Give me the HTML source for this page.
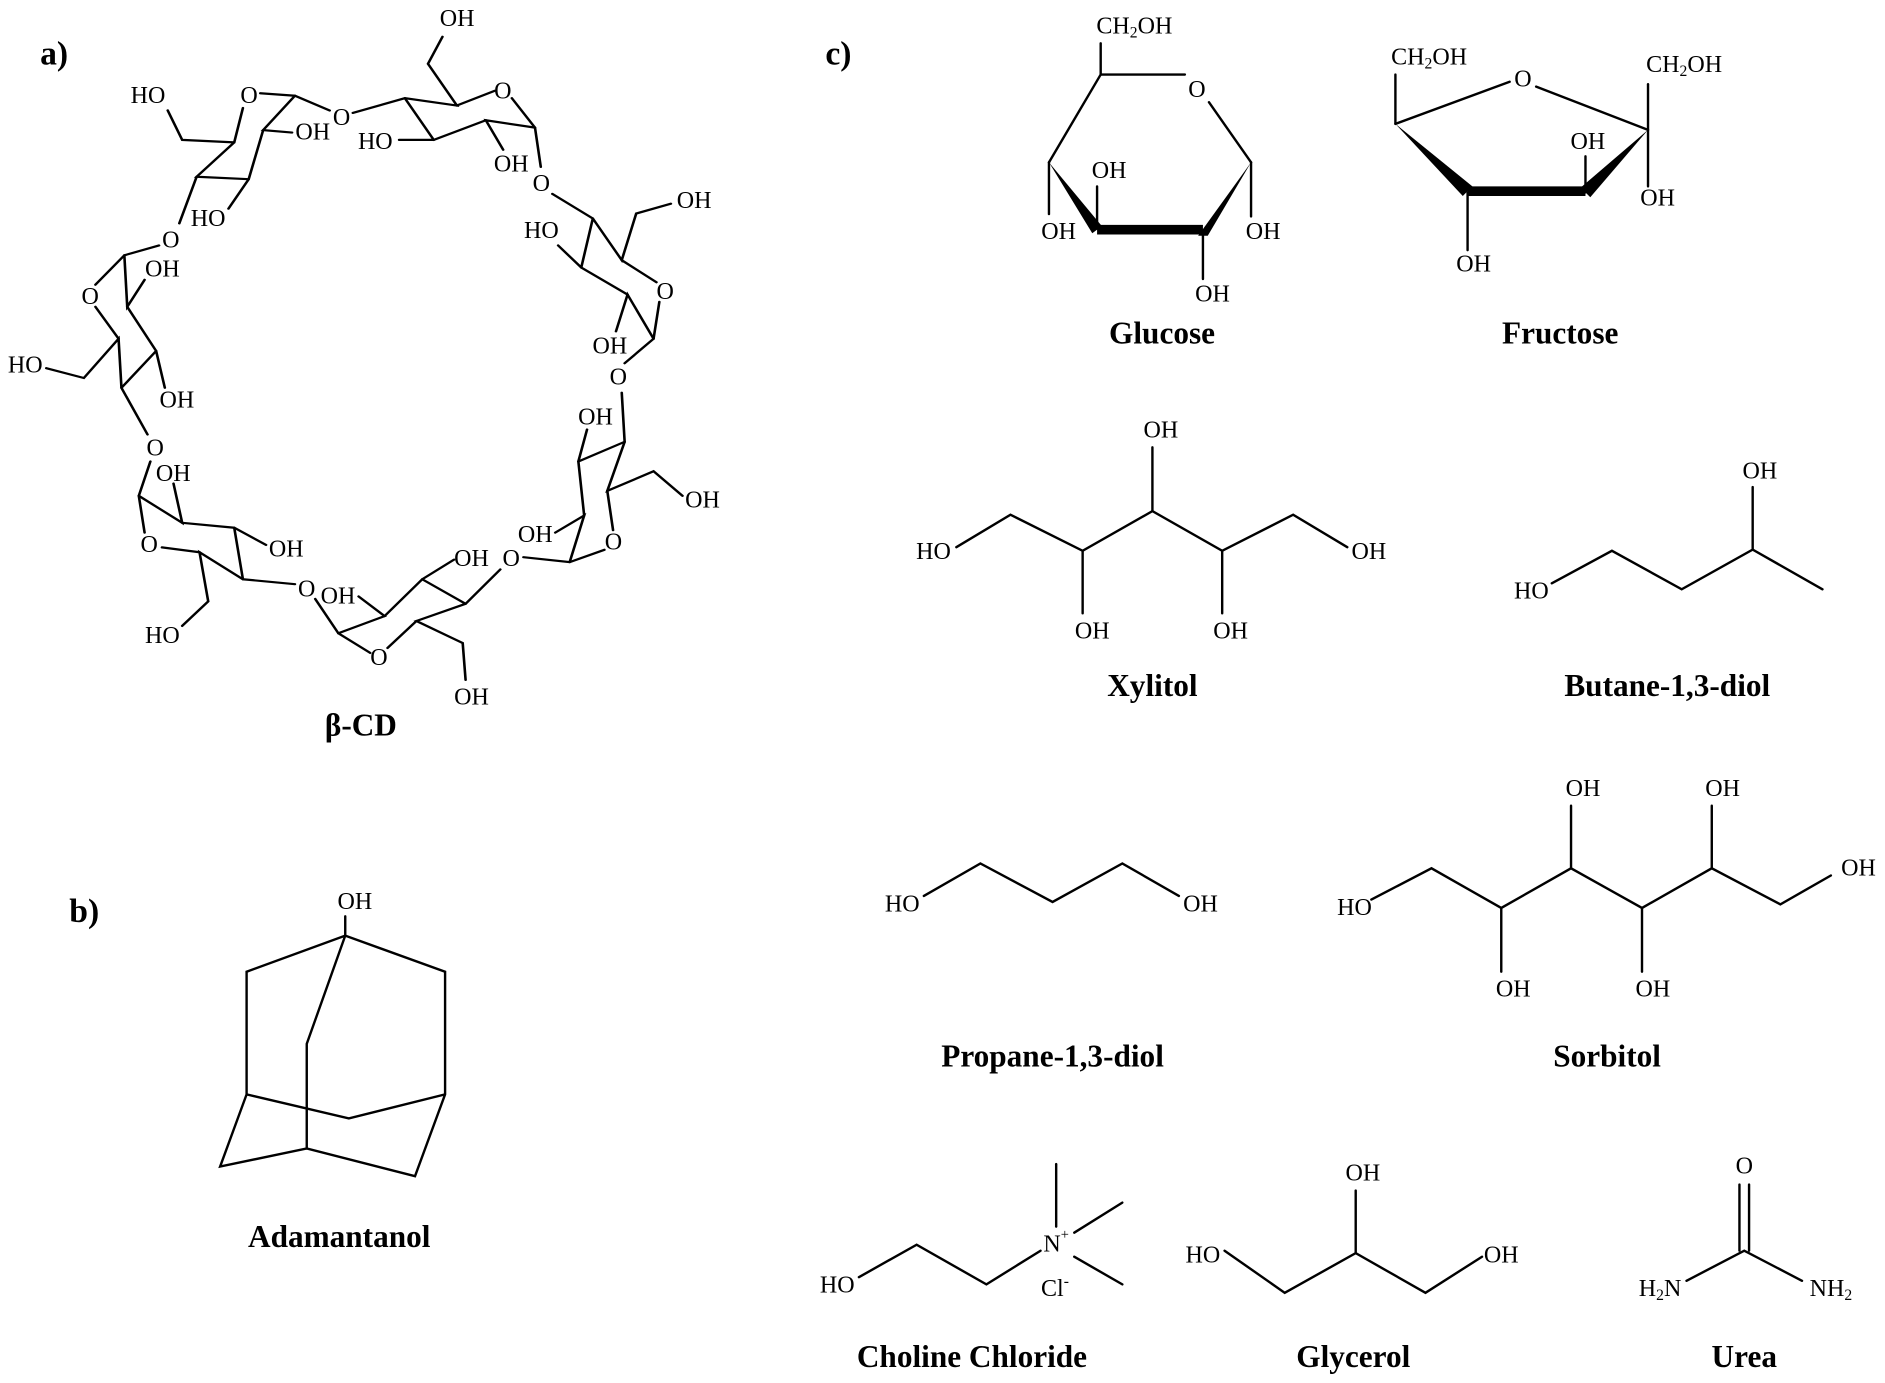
<!DOCTYPE html>
<html><head><meta charset="utf-8"><style>
html,body{margin:0;padding:0;background:#fff;}
svg{display:block;}
text{font-family:"Liberation Serif",serif;fill:#000;}
.a{font-size:20px;text-anchor:middle;dominant-baseline:central;}
.l{font-size:26px;font-weight:bold;text-anchor:middle;dominant-baseline:central;}
.p{font-size:28px;font-weight:bold;text-anchor:middle;dominant-baseline:central;}
</style></head><body>
<svg width="1885" height="1383" viewBox="0 0 1567 1150" preserveAspectRatio="none" xmlns="http://www.w3.org/2000/svg">
<g stroke="#000" stroke-width="2" fill="none" stroke-linecap="round">
<g transform="scale(0.4808,0.4082)" stroke-width="4.5">
<polyline points="290,225 315,285 405,290"/>
<line x1="405" y1="290" x2="420" y2="220"/>
<polyline points="450,190 510,195 570,225"/>
<polyline points="510,195 455,265 505,270"/>
<polyline points="455,265 430,365 395,425"/>
<polyline points="430,365 340,360 405,290"/>
<line x1="340" y1="360" x2="310" y2="455"/>

<polyline points="610,230 700,200 790,215 740,130 765,75"/>
<line x1="790" y1="215" x2="855" y2="185"/>
<polyline points="885,200 925,260 935,340"/>
<polyline points="925,260 840,245 870,305"/>
<polyline points="840,245 750,285 690,285"/>
<line x1="750" y1="285" x2="700" y2="200"/>

<polyline points="955,395 1025,445 1075,530 1100,435 1160,415"/>
<line x1="1075" y1="530" x2="1135" y2="575"/>
<polyline points="1140,615 1130,690 1080,740"/>
<polyline points="1130,690 1085,600 1065,675"/>
<polyline points="1085,600 1005,545 965,500"/>
<line x1="1005" y1="545" x2="1025" y2="445"/>

<polyline points="1075,800 1080,900 1050,1000 1130,960 1180,1010"/>
<line x1="1050" y1="1000" x2="1060" y2="1080"/>
<polyline points="1045,1120 985,1145 905,1135"/>
<polyline points="985,1145 1010,1050 960,1085"/>
<polyline points="1010,1050 1000,940 1015,875"/>
<line x1="1000" y1="940" x2="1080" y2="900"/>

<polyline points="865,1160 805,1230 720,1265 800,1310 805,1385"/>
<line x1="720" y1="1265" x2="670" y2="1320"/>
<polyline points="640,1330 585,1290 545,1220"/>
<polyline points="585,1290 665,1255 620,1215"/>
<polyline points="665,1255 730,1180 785,1140"/>
<line x1="730" y1="1180" x2="805" y2="1230"/>

<polyline points="510,1190 420,1180 345,1125 360,1225 315,1275"/>
<line x1="345" y1="1125" x2="280" y2="1115"/>
<polyline points="250,1085 240,1010 260,940"/>
<polyline points="240,1010 315,1065 300,985"/>
<polyline points="315,1065 405,1075 460,1110"/>
<line x1="405" y1="1075" x2="420" y2="1180"/>

<polyline points="255,885 210,790 205,690 145,770 80,750"/>
<line x1="205" y1="690" x2="165" y2="625"/>
<polyline points="165,580 215,520 275,500"/>
<polyline points="215,520 220,625 250,570"/>
<polyline points="220,625 270,715 285,790"/>
<line x1="270" y1="715" x2="210" y2="790"/>
</g>

<line x1="287" y1="762" x2="287" y2="778"/>
<polyline points="205,910 205,808 287,778 370,808 370,910 345,978 255,955 183,970 205,910 290,930 370,910"/>
<polyline points="287,778 255,868 255,955"/>

<line x1="915" y1="36" x2="915" y2="62"/>
<line x1="915" y1="62" x2="985" y2="62"/>
<line x1="1005" y1="85" x2="1040" y2="135"/>
<line x1="1040" y1="135" x2="1040" y2="180"/>
<line x1="1000" y1="193" x2="1000" y2="232"/>
<line x1="912" y1="190" x2="912" y2="155"/>
<line x1="872" y1="135" x2="872" y2="178"/>
<line x1="872" y1="135" x2="915" y2="62"/>
<line x1="912" y1="191" x2="1000" y2="191" stroke-width="8" stroke-linecap="butt"/>
<polygon points="1040,135 996,196 1004,196" fill="#000" stroke="none"/>
<polygon points="872,135 908,194 916,188" fill="#000" stroke="none"/>

<line x1="1160" y1="62" x2="1160" y2="103"/>
<line x1="1160" y1="103" x2="1255" y2="68"/>
<line x1="1277" y1="72" x2="1370" y2="108"/>
<line x1="1370" y1="70" x2="1370" y2="155"/>
<line x1="1318" y1="160" x2="1318" y2="130"/>
<line x1="1220" y1="160" x2="1220" y2="208"/>
<line x1="1220" y1="159" x2="1318" y2="159" stroke-width="8" stroke-linecap="butt"/>
<polygon points="1370,108 1314,156 1322,164" fill="#000" stroke="none"/>
<polygon points="1160,103 1216,163 1224,155" fill="#000" stroke="none"/>

<polyline points="795,455 840,428 900,458 958,425 1016,458 1075,428 1120,455"/>
<line x1="900" y1="458" x2="900" y2="510"/>
<line x1="958" y1="425" x2="958" y2="372"/>
<line x1="1016" y1="458" x2="1016" y2="510"/>
<polyline points="1290,485 1340,458 1398,490 1457,457 1515,490"/>
<line x1="1457" y1="457" x2="1457" y2="405"/>
<polyline points="768,745 815,718 875,750 933,718 980,745"/>
<polyline points="1140,748 1190,722 1248,755 1306,722 1365,755 1423,722 1480,752 1522,728"/>
<line x1="1248" y1="755" x2="1248" y2="808"/>
<line x1="1306" y1="722" x2="1306" y2="670"/>
<line x1="1365" y1="755" x2="1365" y2="808"/>
<line x1="1423" y1="722" x2="1423" y2="670"/>
<polyline points="714,1062 762,1035 820,1068 865,1040"/>
<line x1="878" y1="1020" x2="878" y2="968"/>
<line x1="893" y1="1025" x2="933" y2="1000"/>
<line x1="893" y1="1045" x2="933" y2="1068"/>
<polyline points="1018,1040 1068,1075 1127,1042 1185,1075 1232,1045"/>
<line x1="1127" y1="1042" x2="1127" y2="990"/>
<line x1="1446" y1="985" x2="1446" y2="1040"/>
<line x1="1454" y1="985" x2="1454" y2="1040"/>
<polyline points="1402,1065 1450,1040 1498,1065"/>
</g>

<text class="p" x="45" y="45">a)</text>
<text class="p" x="697" y="45">c)</text>
<text class="p" x="70" y="758">b)</text>

<text class="a" x="123" y="80">HO</text>
<text class="a" x="207" y="80">O</text>
<text class="a" x="260" y="110">OH</text>
<text class="a" x="284" y="98">O</text>
<text class="a" x="173" y="182">HO</text>
<text class="a" x="142" y="200">O</text>
<text class="a" x="380" y="16">OH</text>
<text class="a" x="418" y="76">O</text>
<text class="a" x="312" y="118">HO</text>
<text class="a" x="425" y="137">OH</text>
<text class="a" x="450" y="153">O</text>
<text class="a" x="577" y="167">OH</text>
<text class="a" x="553" y="243">O</text>
<text class="a" x="450" y="192">HO</text>
<text class="a" x="507" y="288">OH</text>
<text class="a" x="514" y="314">O</text>
<text class="a" x="495" y="347">OH</text>
<text class="a" x="584" y="416">OH</text>
<text class="a" x="510" y="451">O</text>
<text class="a" x="445" y="445">OH</text>
<text class="a" x="425" y="465">O</text>
<text class="a" x="392" y="465">OH</text>
<text class="a" x="281" y="496">OH</text>
<text class="a" x="255" y="490">O</text>
<text class="a" x="315" y="547">O</text>
<text class="a" x="392" y="580">OH</text>
<text class="a" x="144" y="394">OH</text>
<text class="a" x="129" y="373">O</text>
<text class="a" x="124" y="453">O</text>
<text class="a" x="238" y="457">OH</text>
<text class="a" x="135" y="529">HO</text>
<text class="a" x="135" y="224">OH</text>
<text class="a" x="75" y="247">O</text>
<text class="a" x="21" y="304">HO</text>
<text class="a" x="147" y="333">OH</text>
<text class="l" x="300" y="603">β-CD</text>

<text class="a" x="295" y="750">OH</text>
<text class="l" x="282" y="1028">Adamantanol</text>

<text class="a" x="943" y="22">CH<tspan font-size="13" dy="5">2</tspan><tspan dy="-5">OH</tspan></text>
<text class="a" x="995" y="75">O</text>
<text class="a" x="1050" y="193">OH</text>
<text class="a" x="1008" y="245">OH</text>
<text class="a" x="922" y="142">OH</text>
<text class="a" x="880" y="193">OH</text>
<text class="l" x="966" y="277">Glucose</text>
<text class="a" x="1188" y="48">CH<tspan font-size="13" dy="5">2</tspan><tspan dy="-5">OH</tspan></text>
<text class="a" x="1266" y="66">O</text>
<text class="a" x="1400" y="54">CH<tspan font-size="13" dy="5">2</tspan><tspan dy="-5">OH</tspan></text>
<text class="a" x="1378" y="165">OH</text>
<text class="a" x="1320" y="118">OH</text>
<text class="a" x="1225" y="220">OH</text>
<text class="l" x="1297" y="277">Fructose</text>
<text class="a" x="776" y="459">HO</text>
<text class="a" x="1138" y="459">OH</text>
<text class="a" x="908" y="525">OH</text>
<text class="a" x="965" y="358">OH</text>
<text class="a" x="1023" y="525">OH</text>
<text class="l" x="958" y="570">Xylitol</text>
<text class="a" x="1273" y="492">HO</text>
<text class="a" x="1463" y="392">OH</text>
<text class="l" x="1386" y="570">Butane-1,3-diol</text>
<text class="a" x="750" y="752">HO</text>
<text class="a" x="998" y="752">OH</text>
<text class="l" x="875" y="878">Propane-1,3-diol</text>
<text class="a" x="1126" y="755">HO</text>
<text class="a" x="1545" y="722">OH</text>
<text class="a" x="1258" y="823">OH</text>
<text class="a" x="1316" y="656">OH</text>
<text class="a" x="1374" y="823">OH</text>
<text class="a" x="1432" y="656">OH</text>
<text class="l" x="1336" y="878">Sorbitol</text>
<text class="a" x="696" y="1069">HO</text>
<text class="a" x="878" y="1035">N<tspan font-size="12" dy="-8">+</tspan></text>
<text class="a" x="877" y="1072">Cl<tspan font-size="13" dy="-7">-</tspan></text>
<text class="l" x="808" y="1128">Choline Chloride</text>
<text class="a" x="1000" y="1044">HO</text>
<text class="a" x="1248" y="1044">OH</text>
<text class="a" x="1133" y="976">OH</text>
<text class="l" x="1125" y="1128">Glycerol</text>
<text class="a" x="1450" y="970">O</text>
<text class="a" x="1380" y="1072">H<tspan font-size="13" dy="5">2</tspan><tspan dy="-5">N</tspan></text>
<text class="a" x="1522" y="1072">NH<tspan font-size="13" dy="5">2</tspan></text>
<text class="l" x="1450" y="1128">Urea</text>
</svg>
</body></html>
